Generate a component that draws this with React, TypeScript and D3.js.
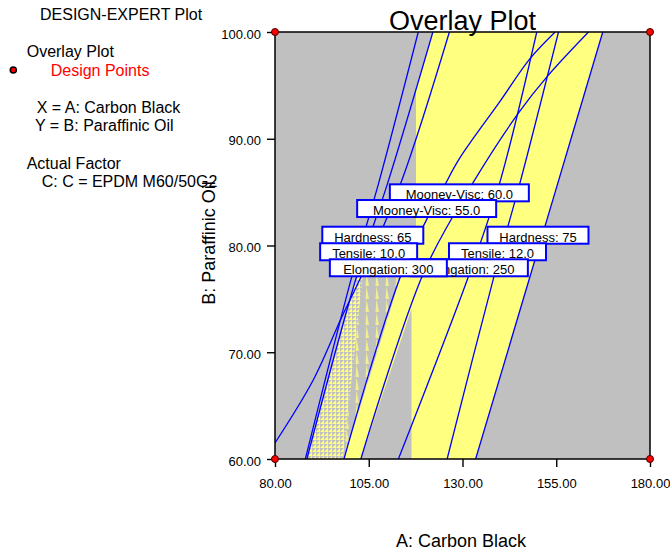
import React, { useEffect, useRef } from 'react'
import * as d3 from 'd3'

// contour lines as [A: Carbon Black, B: Paraffinic Oil], top to bottom
const hardness65 = [[118.2, 100], [107.6, 85.8], [100.8, 77.5], [88.1, 60]]
const tensile10 = [[122.1, 100], [110.0, 85.8], [102.1, 77.5], [88.5, 60]]
const elongation300 = [[126.5, 100], [113.5, 85.8], [103.5, 77.5], [97.8, 73.3], [90.2, 67.4], [80, 61.5]]
const mooney60 = [[154.7, 100], [148.0, 97.5], [140.0, 93.5], [129.3, 88.2], [125.5, 85.8], [113.9, 77.5], [98.4, 60]]
const mooney55 = [[163.6, 100], [152.5, 95.8], [144.9, 92.4], [132.5, 85.7], [119.7, 77.5], [102.9, 60]]
const hardness75 = [[149.8, 100], [139.8, 85.7], [132.0, 77.5], [112.9, 60]]
const tensile12 = [[155.6, 100], [145.2, 85.7], [138.7, 77.5], [125.9, 60]]
const elongation250 = [[167.4, 100], [155.3, 85.7], [133.5, 60]]

// grid edges of the shaded (feasible) area and its dithered part
const cutUpper = 117.6
const cutLower = 116.4
const ditherEdge = [[103.5, 77.5], [98.1, 60]]

const designA = [80, 80, 180, 180]
const designB = [60, 100, 60, 100]

const carbonTicks = [80, 105, 130, 155, 180]
const oilTicks = [60, 70, 80, 90, 100]

const contours = [hardness65, tensile10, elongation300, mooney60, mooney55, hardness75, tensile12, elongation250]

// flag labels: text, centre A, top B, box width
const flags = [
  { text: 'Mooney-Visc: 60.0', a: 129.16, b: 85.73, w: 139 },
  { text: 'Mooney-Visc: 55.0', a: 120.44, b: 84.26, w: 139 },
  { text: 'Hardness: 65', a: 106.08, b: 81.76, w: 101 },
  { text: 'Hardness: 75', a: 150.13, b: 81.76, w: 101 },
  { text: 'Tensile: 10.0', a: 104.97, b: 80.21, w: 97 },
  { text: 'Tensile: 12.0', a: 139.33, b: 80.21, w: 97 },
  { text: 'Elongation: 250', a: 131.83, b: 78.71, w: 117 },
  { text: 'Elongation: 300', a: 110.23, b: 78.71, w: 117 },
]

const FONT = 'Arial, "Liberation Sans", sans-serif'
const GRAY = '#C0C0C0'
const YELLOW = '#FFFF80'
const BLUE = '#0000FF'

function xAt(pts: number[][], b: number) {
  for (let i = 0; i < pts.length - 1; i++) {
    const [a0, b0] = pts[i]
    const [a1, b1] = pts[i + 1]
    if (b <= b0 && b >= b1) return a0 + (a1 - a0) * (b0 - b) / (b0 - b1)
  }
  if (b > pts[0][1]) return pts[0][0]
  const [a0, b0] = pts[pts.length - 2]
  const [a1, b1] = pts[pts.length - 1]
  return a0 + (a1 - a0) * (b0 - b) / (b0 - b1)
}

function band(left: (b: number) => number, right: (b: number) => number, b0: number, b1: number) {
  const L: number[][] = []
  const R: number[][] = []
  for (let b = b0; b <= b1 + 1e-9; b += 0.05) {
    const l = left(b), r = right(b)
    if (l < r) { L.push([l, b]); R.push([r, b]) }
  }
  return L.concat(R.reverse())
}

export default function App() {
  const gx = useRef<SVGGElement>(null)
  const gy = useRef<SVGGElement>(null)

  const x = d3.scaleLinear().domain([80, 180]).range([275, 650])
  const y = d3.scaleLinear().domain([60, 100]).range([459, 32])

  useEffect(() => {
    const fmt = d3.format('.2f')
    d3.select(gx.current!)
      .call(d3.axisBottom(x).tickValues(carbonTicks).tickSize(8).tickPadding(12).tickFormat(d => fmt(d as number)))
      .call(g => g.select('.domain').remove())
      .attr('font-size', 13).attr('font-family', FONT)
      .call(g => g.selectAll('line').attr('stroke-width', 1.4))
    d3.select(gy.current!)
      .call(d3.axisLeft(y).tickValues(oilTicks).tickSize(8).tickPadding(6).tickFormat(d => fmt(d as number)))
      .call(g => g.select('.domain').remove())
      .attr('font-size', 13).attr('font-family', FONT)
      .call(g => g.selectAll('line').attr('stroke-width', 1.4))
      .call(g => g.selectAll('text').attr('dy', '0.47em'))
  }, [])

  const area = d3.line<number[]>().x(d => x(d[0])).y(d => y(d[1]))
  const curve = d3.line<number[]>().x(d => x(d[0])).y(d => y(d[1])).curve(d3.curveCatmullRom)

  const feasible = band(
    b => Math.max(xAt(tensile10, b), Math.min(cutUpper, xAt(mooney60, b))),
    b => xAt(elongation250, b), 60, 100)
  const wedge = band(b => xAt(mooney55, b), () => cutLower, 60, 100)
  const dither = band(b => xAt(tensile10, b), b => xAt(ditherEdge, b), 60, 77.5)
  const spikes = band(b => xAt(ditherEdge, b), b => xAt(mooney60, b), 60, 77.5)

  return (
    <svg width={670} height={552} style={{ position: 'absolute', left: 0, top: 0, display: 'block' }}>
      <defs>
        <clipPath id="plot"><rect x={275} y={32} width={375} height={427} /></clipPath>
        <pattern id="dither" width={4} height={4} patternUnits="userSpaceOnUse">
          <path d="M0 4 L4 0 L4 4 Z" fill={YELLOW} />
        </pattern>
        <pattern id="spikes" width={10} height={13} patternUnits="userSpaceOnUse">
          <path d="M6.5 0 L9 13 L5.5 13 Z" fill={YELLOW} opacity={0.75} />
        </pattern>
      </defs>

      <rect x={275} y={32} width={375} height={427} fill={GRAY} />
      <g clipPath="url(#plot)">
        <path d={area(feasible) + 'Z'} fill={YELLOW} />
        <path d={area(wedge) + 'Z'} fill={GRAY} />
        <path d={area(dither) + 'Z'} fill="url(#dither)" />
        <path d={area(spikes) + 'Z'} fill="url(#spikes)" />
        {contours.map((c, i) => (
          <path key={i} d={curve(c) || ''} fill="none" stroke={BLUE} strokeWidth={1.3} />
        ))}
      </g>

      {flags.map(f => {
        const cx = x(f.a), top = y(f.b)
        return (
          <g key={f.text}>
            <rect x={cx - f.w / 2} y={top} width={f.w} height={17} fill="#fff" stroke={BLUE} strokeWidth={2} />
            <text x={cx} y={top + 15} textAnchor="middle" fontSize={13} fontFamily={FONT} fill="#000">{f.text}</text>
          </g>
        )
      })}

      <rect x={275} y={32} width={375} height={427} fill="none" stroke="#000" strokeWidth={1.5} />
      <g ref={gx} transform="translate(0,459)" />
      <g ref={gy} transform="translate(275,0)" />

      {designA.map((a, i) => (
        <circle key={i} cx={x(a)} cy={y(designB[i])} r={3.5} fill="#FF0000" stroke="#400" strokeWidth={1} />
      ))}

      <text x={462.5} y={29.5} textAnchor="middle" fontSize={27} fontFamily={FONT}>Overlay Plot</text>
      <text x={461} y={547} textAnchor="middle" fontSize={18} fontFamily={FONT}>A: Carbon Black</text>
      <text transform="translate(215,243) rotate(-90)" textAnchor="middle" fontSize={18} fontFamily={FONT}>B: Paraffinic Oil</text>

      <g fontSize={16} fontFamily={FONT} fill="#000">
        <text x={40} y={20}>DESIGN-EXPERT Plot</text>
        <text x={26.7} y={57.3}>Overlay Plot</text>
        <circle cx={13.3} cy={70} r={3} fill="#FF0000" stroke="#000" strokeWidth={1.6} />
        <text x={50.7} y={76} fill="#FF0000">Design Points</text>
        <text x={36.7} y={113.3}>X = A: Carbon Black</text>
        <text x={35} y={130.7}>Y = B: Paraffinic Oil</text>
        <text x={26.7} y={169.3}>Actual Factor</text>
        <text x={41.7} y={186.7}>C: C = EPDM M60/50G2</text>
      </g>
    </svg>
  )
}
